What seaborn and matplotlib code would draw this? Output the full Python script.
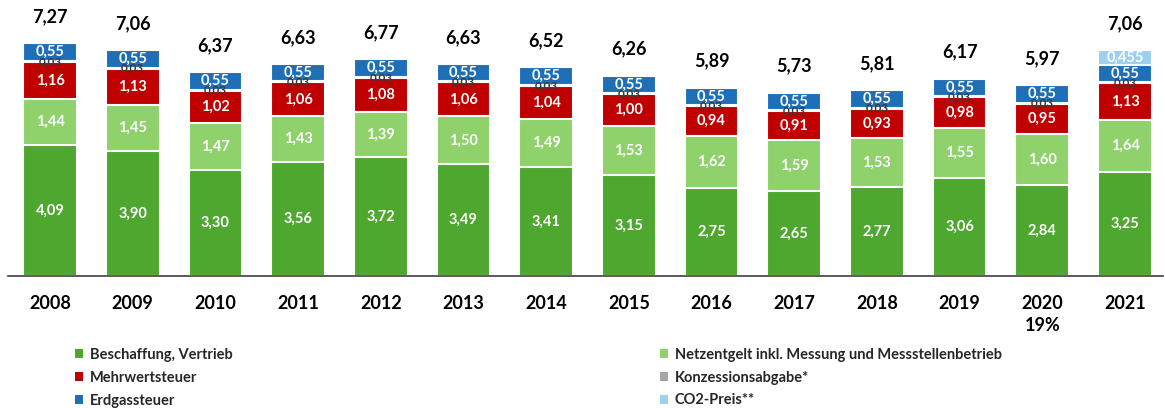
import numpy as np
import pandas as pd
import seaborn as sns
import matplotlib.pyplot as plt
from matplotlib.patches import Patch

# =====
# data

years = [str(y) for y in range(2008, 2022)]
beschaffung = [4.09, 3.90, 3.30, 3.56, 3.72, 3.49, 3.41, 3.15, 2.75, 2.65, 2.77, 3.06, 2.84, 3.25]
netzentgelt = [1.44, 1.45, 1.47, 1.43, 1.39, 1.50, 1.49, 1.53, 1.62, 1.59, 1.53, 1.55, 1.60, 1.64]
mehrwertsteuer = [1.16, 1.13, 1.02, 1.06, 1.08, 1.06, 1.04, 1.00, 0.94, 0.91, 0.93, 0.98, 0.95, 1.13]
konzession = [0.03] * 14
erdgassteuer = [0.55] * 14
co2_preis = [0, 0, 0, 0, 0, 0, 0, 0, 0, 0, 0, 0, 0, 0.455]
totals = [7.27, 7.06, 6.37, 6.63, 6.77, 6.63, 6.52, 6.26, 5.89, 5.73, 5.81, 6.17, 5.97, 7.06]

names = ["Beschaffung, Vertrieb", "Netzentgelt inkl. Messung und Messstellenbetrieb",
         "Mehrwertsteuer", "Konzessionsabgabe*", "Erdgassteuer", "CO2-Preis**"]
colors = ["#4ea72e", "#8fd16a", "#c00000", "#a5a5a5", "#1f6fb6", "#9dd0ee"]

layers = np.array([beschaffung, netzentgelt, mehrwertsteuer, konzession, erdgassteuer, co2_preis])
cum = np.cumsum(layers, axis=0)

# ====
# plot

sns.set_theme(style="white")
plt.rcParams['font.family'] = ['Lato', 'DejaVu Sans']

fig = plt.figure(figsize=(11.65, 4.08), dpi=100)
ax = fig.add_axes([8 / 1165, 132 / 408, 1155 / 1165, 276 / 408])

# overlay cumulative bars, tallest first
for i in reversed(range(len(layers))):
    sns.barplot(x=years, y=cum[i], color=colors[i], saturation=1, width=0.65,
                edgecolor="white", linewidth=1.5, errorbar=None, ax=ax)

# segment labels
for j in range(len(years)):
    bottom = 0
    for i, vals in enumerate(layers):
        v = vals[j]
        if v > 0:
            mid = bottom + v / 2
            if i == 3:
                ax.text(j, mid, f"{v:.2f}".replace(".", ","), ha="center", va="center",
                        fontsize=8.5, fontweight="bold", color="#3a3a3a")
            else:
                txt = f"{v:.3f}" if i == 5 else f"{v:.2f}"
                ax.text(j, mid, txt.replace(".", ","), ha="center", va="center",
                        fontsize=10.5, fontweight="bold", color="white")
        bottom += v
    ax.text(j, totals[j] + 0.83, f"{totals[j]:.2f}".replace(".", ","), ha="center",
            va="center", fontsize=13, fontweight="bold", color="black")

ax.text(12, -1.55, "19%", ha="center", va="center", fontsize=13,
        fontweight="bold", color="black", clip_on=False)

ax.set_ylim(0, 8.625)
ax.set_xlim(-0.508, 13.46)
ax.set_yticks([])
ax.set_ylabel("")
sns.despine(ax=ax, left=True)
ax.spines["bottom"].set_color("#404040")
ax.spines["bottom"].set_linewidth(1.2)
ax.tick_params(axis="x", length=0, pad=14)
for lbl in ax.get_xticklabels():
    lbl.set_fontsize(13)
    lbl.set_fontweight("bold")
    lbl.set_color("black")

# legends
handles = [Patch(facecolor=c, edgecolor="none") for c in colors]
leg_kw = dict(frameon=False, loc="upper left", handlelength=0.55,
              handleheight=0.55, handletextpad=0.45, labelspacing=0.6,
              borderpad=0, borderaxespad=0, prop={"weight": "bold", "size": 10.5})
fig.legend([handles[0], handles[2], handles[4]], [names[0], names[2], names[4]],
           bbox_to_anchor=(75 / 1165, 60 / 408), **leg_kw)
fig.legend([handles[1], handles[3], handles[5]], [names[1], names[3], names[5]],
           bbox_to_anchor=(660 / 1165, 60 / 408), **leg_kw)

plt.savefig("out.png", dpi=100)
